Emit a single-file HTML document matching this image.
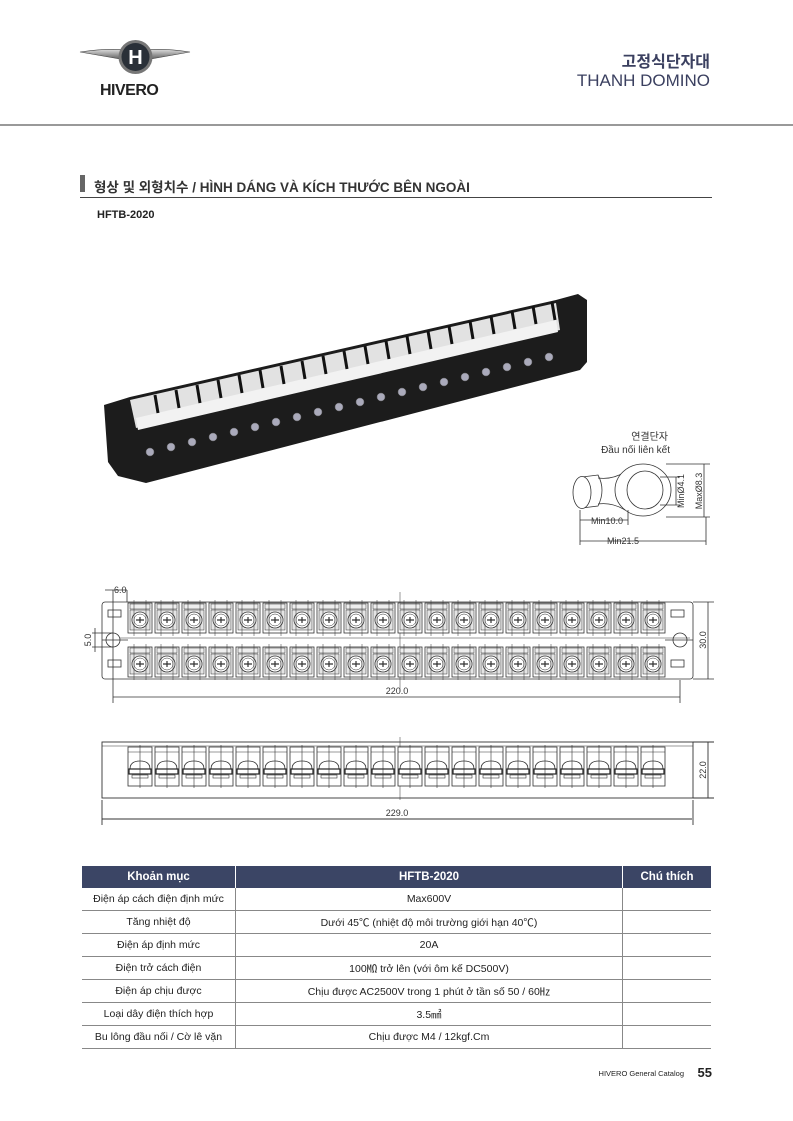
<!DOCTYPE html>
<html><head><meta charset="utf-8">
<style>
html,body{margin:0;padding:0;background:#fff;}
body{width:793px;height:1121px;position:relative;overflow:hidden;font-family:"Liberation Sans","Noto Sans CJK KR",sans-serif;}
.a{position:absolute;white-space:nowrap;}
table{position:absolute;left:82px;top:866px;border-collapse:collapse;font-size:10.5px;color:#222;}
td{border-bottom:1px solid #888;text-align:center;height:22px;padding:0;}
td.c1{width:153px;border-right:1px solid #888;}
td.c2{width:386px;border-right:1px solid #888;}
td.c3{width:88px;}
tr.h td{background:#3b4565;color:#fff;font-weight:bold;font-size:11.5px;height:22px;border-right:1px solid #fff;border-bottom:none;}
</style></head><body>
<!-- logo -->
<svg class="a" style="left:78px;top:36px" width="115" height="44" viewBox="0 0 115 44">
<defs><linearGradient id="w" x1="0" x2="0" y1="0" y2="1"><stop offset="0" stop-color="#ddd"/><stop offset="1" stop-color="#555"/></linearGradient></defs>
<path d="M2 16 Q30 12 48 14 L48 24 Q25 20 2 16Z" fill="url(#w)" stroke="#444" stroke-width=".6"/>
<path d="M112 16 Q85 12 67 14 L67 24 Q90 20 112 16Z" fill="url(#w)" stroke="#444" stroke-width=".6"/>
<circle cx="57.5" cy="21" r="17" fill="#777"/>
<circle cx="57.5" cy="21" r="14" fill="#2a3038"/>
<text x="57.5" y="28" font-family="Liberation Sans" font-weight="bold" font-size="20" fill="#fff" text-anchor="middle">H</text>
</svg>
<div class="a" style="left:100px;top:82px;font-size:16px;font-weight:bold;color:#222;letter-spacing:-0.5px">HIVERO</div>
<div class="a" style="right:83px;top:48px;font-size:16px;font-weight:bold;color:#3b4060">고정식단자대</div>
<div class="a" style="right:83px;top:71px;font-size:17px;color:#3b4060">THANH DOMINO</div>
<div class="a" style="left:0;top:124px;width:793px;height:2px;background:#999"></div>
<!-- section -->
<div class="a" style="left:80px;top:175px;width:5px;height:17px;background:#666"></div>
<div class="a" style="left:94px;top:176px;font-size:13.5px;font-weight:bold;color:#333">형상 및 외형치수 / HÌNH DÁNG VÀ KÍCH THƯỚC BÊN NGOÀI</div>
<div class="a" style="left:80px;top:197px;width:632px;height:1px;background:#444"></div>
<div class="a" style="left:97px;top:209px;font-size:11px;font-weight:bold;color:#222">HFTB-2020</div>

<svg class="a" style="left:0;top:0" width="793" height="1121" viewBox="0 0 793 1121">
<defs>
<g id="tt">
<rect x="0" y="0" width="24" height="30" fill="#fff" stroke="#333" stroke-width=".8"/>
<rect x="2" y="1" width="20" height="5" fill="#eee" stroke="#333" stroke-width=".5"/>
<rect x="2" y="7" width="20" height="20" fill="#e4e4e4" stroke="#333" stroke-width=".5"/>
<circle cx="12" cy="17" r="8" fill="#fff" stroke="#333" stroke-width=".8"/>
<circle cx="12" cy="17" r="6" fill="none" stroke="#333" stroke-width=".5"/>
<path d="M8 17H16M12 14V20" stroke="#333" stroke-width="1.2"/>
<path d="M6 -3V33M18 -3V33" stroke="#333" stroke-width=".5"/>
</g>
<g id="st">
<rect x="0" y="0" width="24" height="39" fill="#fff" stroke="#333" stroke-width=".8"/>
<path d="M0 5H24" stroke="#333" stroke-width=".6"/>
<path d="M2 22 Q2 14 12 14 Q22 14 22 22Z" fill="#fff" stroke="#333" stroke-width=".8"/>
<rect x="1" y="22" width="22" height="5" fill="#fff" stroke="#222" stroke-width="1.2"/>
<rect x="4" y="28" width="16" height="3" fill="#fff" stroke="#333" stroke-width=".6"/>
<path d="M12 -2V41" stroke="#333" stroke-width=".6"/>
</g>
</defs>

<!-- photo -->
<polygon points="104,405 130,397 556,300 578,294 587,300 587,362 580,370 146,483 118,476 108,462" fill="#1c1c1c"/>
<polygon points="130,400 556,303 560,330 136,428" fill="#e2e2e2"/>
<polygon points="136,418 556,320 558,332 138,430" fill="#f2f2f2"/>
<g stroke="#111" stroke-width="3">
<path d="M155 395 l3 18M176 390 l3 18M197 385 l3 18M218 380 l3 18M239 375 l3 18M260 370 l3 18M281 366 l3 18M302 361 l3 18M323 356 l3 18M344 351 l3 18M365 346 l3 18M386 341 l3 18M407 336 l3 18M428 331 l3 18M449 326 l3 18M470 321 l3 18M491 316 l3 18M512 311 l3 18M533 306 l3 18M552 302 l3 18"/>
</g>
<g fill="#aab" stroke="#666" stroke-width=".5">
<circle cx="150" cy="452" r="4"/><circle cx="171" cy="447" r="4"/><circle cx="192" cy="442" r="4"/><circle cx="213" cy="437" r="4"/><circle cx="234" cy="432" r="4"/><circle cx="255" cy="427" r="4"/><circle cx="276" cy="422" r="4"/><circle cx="297" cy="417" r="4"/><circle cx="318" cy="412" r="4"/><circle cx="339" cy="407" r="4"/><circle cx="360" cy="402" r="4"/><circle cx="381" cy="397" r="4"/><circle cx="402" cy="392" r="4"/><circle cx="423" cy="387" r="4"/><circle cx="444" cy="382" r="4"/><circle cx="465" cy="377" r="4"/><circle cx="486" cy="372" r="4"/><circle cx="507" cy="367" r="4"/><circle cx="528" cy="362" r="4"/><circle cx="549" cy="357" r="4"/>
</g>

<!-- connector -->
<text x="668" y="440" font-size="10" text-anchor="end" fill="#333">연결단자</text>
<text x="670" y="453" font-size="10" text-anchor="end" fill="#333">Đầu nối liên kết</text>
<g fill="none" stroke="#333" stroke-width=".8">
<path d="M582 477 L598 475 Q606 490 598 506 L582 508"/>
<ellipse cx="582" cy="492.5" rx="9" ry="16" fill="#fff"/>
<path d="M598 478 Q612 480 625 472 M598 504 Q612 502 625 510"/>
<ellipse cx="643" cy="490" rx="28" ry="26" fill="#fff"/>
<ellipse cx="645" cy="490" rx="18" ry="19"/>
<path d="M660 477 H680 M660 505 H680 M676 477V505 M666 464H710 M666 517H710 M704 464V517"/>
<path d="M580 510V545 M628 510V525 M580 520H628 M580 541H706 M706 517V545"/>
</g>
<text x="607" y="524" font-size="9" text-anchor="middle" fill="#333">Min10.0</text>
<text x="623" y="544" font-size="9" text-anchor="middle" fill="#333">Min21.5</text>
<text transform="translate(684,491) rotate(-90)" font-size="9" text-anchor="middle" fill="#333">MinØ4.1</text>
<text transform="translate(702,491) rotate(-90)" font-size="9" text-anchor="middle" fill="#333">MaxØ8.3</text>

<!-- top view -->
<g fill="none" stroke="#333" stroke-width=".8">
<rect x="102" y="602" width="591" height="77" rx="3" fill="#fff"/>
<path d="M102 640 H128 M665 640 H693"/>
<path d="M120 638 H690" stroke-width=".5"/>
<rect x="108" y="610" width="13" height="7"/><rect x="108" y="660" width="13" height="7"/>
<rect x="671" y="610" width="13" height="7"/><rect x="671" y="660" width="13" height="7"/>
<circle cx="113" cy="640" r="7"/><circle cx="680" cy="640" r="7"/>
<path d="M113 590 V703 M127 590 V602 M105 590 H127"/>
<path d="M92 633 H113 M92 647 H113 M95 628 V652"/>
<path d="M680 680 V703 M113 697 H680 M693 602 H714 M693 679 H714 M708 602 V679"/>
</g>
<text x="114" y="593" font-size="9" fill="#333">6.0</text>
<text transform="translate(91,640) rotate(-90)" font-size="9" text-anchor="middle" fill="#333">5.0</text>
<text x="397" y="694" font-size="9" text-anchor="middle" fill="#333">220.0</text>
<text transform="translate(706,640) rotate(-90)" font-size="9" text-anchor="middle" fill="#333">30.0</text>
<path d="M400 592V692" stroke="#333" stroke-width=".5"/>
<g>
<use href="#tt" x="128" y="603"/><use href="#tt" x="155" y="603"/><use href="#tt" x="182" y="603"/><use href="#tt" x="209" y="603"/><use href="#tt" x="236" y="603"/><use href="#tt" x="263" y="603"/><use href="#tt" x="290" y="603"/><use href="#tt" x="317" y="603"/><use href="#tt" x="344" y="603"/><use href="#tt" x="371" y="603"/><use href="#tt" x="398" y="603"/><use href="#tt" x="425" y="603"/><use href="#tt" x="452" y="603"/><use href="#tt" x="479" y="603"/><use href="#tt" x="506" y="603"/><use href="#tt" x="533" y="603"/><use href="#tt" x="560" y="603"/><use href="#tt" x="587" y="603"/><use href="#tt" x="614" y="603"/><use href="#tt" x="641" y="603"/>
<use href="#tt" x="128" y="647"/><use href="#tt" x="155" y="647"/><use href="#tt" x="182" y="647"/><use href="#tt" x="209" y="647"/><use href="#tt" x="236" y="647"/><use href="#tt" x="263" y="647"/><use href="#tt" x="290" y="647"/><use href="#tt" x="317" y="647"/><use href="#tt" x="344" y="647"/><use href="#tt" x="371" y="647"/><use href="#tt" x="398" y="647"/><use href="#tt" x="425" y="647"/><use href="#tt" x="452" y="647"/><use href="#tt" x="479" y="647"/><use href="#tt" x="506" y="647"/><use href="#tt" x="533" y="647"/><use href="#tt" x="560" y="647"/><use href="#tt" x="587" y="647"/><use href="#tt" x="614" y="647"/><use href="#tt" x="641" y="647"/>
</g>

<!-- side view -->
<g fill="none" stroke="#333" stroke-width=".9">
<rect x="102" y="742" width="591" height="56" fill="#fff"/>
<path d="M102 746 H693" stroke-width=".6"/>
<path d="M102 800 V825 M693 800 V825 M102 819 H692 M693 742 H714 M693 798 H714 M708 742 V798"/>
</g>
<path d="M400 737V800" stroke="#333" stroke-width=".5"/>
<text x="397" y="816" font-size="9" text-anchor="middle" fill="#333">229.0</text>
<text transform="translate(706,770) rotate(-90)" font-size="9" text-anchor="middle" fill="#333">22.0</text>
<g>
<use href="#st" x="128" y="747"/><use href="#st" x="155" y="747"/><use href="#st" x="182" y="747"/><use href="#st" x="209" y="747"/><use href="#st" x="236" y="747"/><use href="#st" x="263" y="747"/><use href="#st" x="290" y="747"/><use href="#st" x="317" y="747"/><use href="#st" x="344" y="747"/><use href="#st" x="371" y="747"/><use href="#st" x="398" y="747"/><use href="#st" x="425" y="747"/><use href="#st" x="452" y="747"/><use href="#st" x="479" y="747"/><use href="#st" x="506" y="747"/><use href="#st" x="533" y="747"/><use href="#st" x="560" y="747"/><use href="#st" x="587" y="747"/><use href="#st" x="614" y="747"/><use href="#st" x="641" y="747"/>
</g>
</svg>

<table>
<tr class="h"><td class="c1">Khoản mục</td><td class="c2">HFTB-2020</td><td class="c3" style="border-right:none">Chú thích</td></tr>
<tr><td class="c1">Điện áp cách điện định mức</td><td class="c2">Max600V</td><td class="c3"></td></tr>
<tr><td class="c1">Tăng nhiệt độ</td><td class="c2">Dưới 45℃ (nhiệt độ môi trường giới hạn 40℃)</td><td class="c3"></td></tr>
<tr><td class="c1">Điện áp định mức</td><td class="c2">20A</td><td class="c3"></td></tr>
<tr><td class="c1">Điện trở cách điện</td><td class="c2">100㏁ trở lên (với ôm kế DC500V)</td><td class="c3"></td></tr>
<tr><td class="c1">Điện áp chịu được</td><td class="c2">Chịu được AC2500V trong 1 phút ở tần số 50 / 60㎐</td><td class="c3"></td></tr>
<tr><td class="c1">Loại dây điện thích hợp</td><td class="c2">3.5㎟</td><td class="c3"></td></tr>
<tr><td class="c1">Bu lông đầu nối / Cờ lê vặn</td><td class="c2">Chịu được M4 / 12kgf.Cm</td><td class="c3"></td></tr>
</table>

<div class="a" style="right:109px;top:1069px;font-size:7.5px;color:#222">HIVERO General Catalog</div>
<div class="a" style="right:81px;top:1065px;font-size:13px;font-weight:bold;color:#222">55</div>
</body></html>
